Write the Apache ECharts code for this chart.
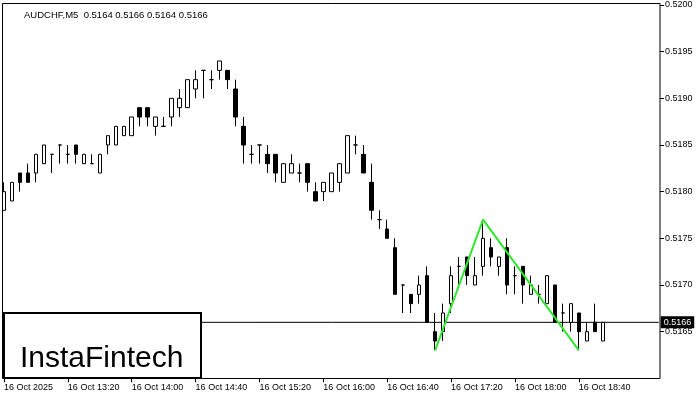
<!DOCTYPE html>
<html><head><meta charset="utf-8">
<script src="https://cdn.jsdelivr.net/npm/echarts@6/dist/echarts.min.js"></script>
<style>html,body{margin:0;padding:0;background:#fff}#c{width:700px;height:400px}</style>
</head><body><div id="c"></div>
<script>
const symbolTitle = 'AUDCHF,M5  0.5164 0.5166 0.5164 0.5166';
const dateLabel = '16 Oct 2025';
const dayPrefix = '16 Oct ';
const times = ['12:40','12:45','12:50','12:55','13:00','13:05','13:10','13:15',
  '13:20','13:25','13:30','13:35','13:40','13:45','13:50','13:55',
  '14:00','14:05','14:10','14:15','14:20','14:25','14:30','14:35',
  '14:40','14:45','14:50','14:55','15:00','15:05','15:10','15:15',
  '15:20','15:25','15:30','15:35','15:40','15:45','15:50','15:55',
  '16:00','16:05','16:10','16:15','16:20','16:25','16:30','16:35',
  '16:40','16:45','16:50','16:55','17:00','17:05','17:10','17:15',
  '17:20','17:25','17:30','17:35','17:40','17:45','17:50','17:55',
  '18:00','18:05','18:10','18:15','18:20','18:25','18:30','18:35',
  '18:40','18:45','18:50','18:55'];
const padSlots = ['p1','p2','p3','p4','p5','p6','p7'];
const opens = [0.5178,0.5179,0.5182,0.5182,0.5182,0.5183,0.5184,0.5185,0.5184,0.5185,0.5183,0.5183,0.5182,0.5185,0.5185,0.5186,0.5186,0.5189,0.5189,0.5187,0.5187,0.5188,0.5189,0.5189,0.5191,0.5193,0.5192,0.5193,0.5193,0.5191,0.5187,0.5184,0.5185,0.5184,0.5184,0.5181,0.5182,0.5182,0.5183,0.5180,0.5180,0.5180,0.5181,0.5182,0.5185,0.5184,0.5181,0.5177,0.5176,0.5174,0.5170,0.5169,0.5169,0.5171,0.5165,0.5165,0.5168,0.5172,0.5173,0.5170,0.5172,0.5174,0.5172,0.5174,0.5171,0.5172,0.5169,0.5169,0.5168,0.5170,0.5167,0.5166,0.5167,0.5164,0.5166,0.5164];
const closes = [0.5180,0.5181,0.5181,0.5181,0.5184,0.5185,0.5184,0.5185,0.5184,0.5184,0.5184,0.5183,0.5184,0.5186,0.5187,0.5187,0.5188,0.5188,0.5188,0.5188,0.5187,0.5190,0.5190,0.5192,0.5192,0.5193,0.5192,0.5194,0.5192,0.5188,0.5185,0.5184,0.5185,0.5183,0.5182,0.5183,0.5183,0.5182,0.5181,0.5179,0.5181,0.5182,0.5183,0.5186,0.5185,0.5182,0.5178,0.5177,0.5175,0.5169,0.5170,0.5168,0.5170,0.5166,0.5164,0.5167,0.5171,0.5172,0.5171,0.5171,0.5175,0.5173,0.5173,0.5170,0.5171,0.5170,0.5170,0.5169,0.5171,0.5166,0.5167,0.5168,0.5165,0.5165,0.5165,0.5166];
const lows = [0.5178,0.5179,0.5180,0.5181,0.5181,0.5183,0.5182,0.5183,0.5183,0.5183,0.5183,0.5183,0.5182,0.5184,0.5185,0.5186,0.5186,0.5187,0.5187,0.5186,0.5187,0.5187,0.5188,0.5189,0.5190,0.5190,0.5191,0.5192,0.5191,0.5187,0.5183,0.5183,0.5183,0.5182,0.5181,0.5181,0.5182,0.5181,0.5180,0.5179,0.5179,0.5180,0.5180,0.5182,0.5184,0.5182,0.5177,0.5176,0.5175,0.5169,0.5167,0.5167,0.5168,0.5166,0.5163,0.5164,0.5167,0.5170,0.5170,0.5170,0.5171,0.5172,0.5171,0.5169,0.5169,0.5168,0.5169,0.5168,0.5168,0.5166,0.5165,0.5165,0.5163,0.5164,0.5165,0.5164];
const highs = [0.5181,0.5181,0.5182,0.5183,0.5184,0.5185,0.5184,0.5185,0.5185,0.5185,0.5184,0.5184,0.5184,0.5186,0.5187,0.5187,0.5188,0.5189,0.5189,0.5188,0.5188,0.5190,0.5191,0.5192,0.5193,0.5193,0.5193,0.5194,0.5193,0.5192,0.5188,0.5185,0.5185,0.5185,0.5184,0.5183,0.5184,0.5183,0.5183,0.5181,0.5181,0.5182,0.5183,0.5186,0.5186,0.5185,0.5183,0.5178,0.5177,0.5175,0.5170,0.5169,0.5171,0.5172,0.5167,0.5168,0.5172,0.5173,0.5173,0.5173,0.5177,0.5175,0.5173,0.5175,0.5172,0.5172,0.5171,0.5170,0.5171,0.5170,0.5168,0.5168,0.5167,0.5166,0.5168,0.5166];
const patternTimes = ['17:10','17:40','18:40'];
const patternPrices = [0.5163,0.5177,0.5163];
const currentPrice = 0.5166;
const yMin = 0.5160, yMax = 0.5200, yStep = 0.0005;
const logoText = 'InstaFintech';

const categories = times.concat(padSlots);
const candleData = times.map((t, i) => [opens[i], closes[i], lows[i], highs[i]]);
const patternData = patternTimes.map((t, i) => [t, patternPrices[i]]);
const priceLineData = [[categories[0], currentPrice], [categories[categories.length - 1], currentPrice]];
const showIdx = (idx) => idx % 8 === 0 && idx < times.length;

const chart = echarts.init(document.getElementById('c'), null, {renderer: 'canvas'});
chart.setOption({
  animation: false,
  backgroundColor: '#ffffff',
  title: {
    text: symbolTitle, left: 19, top: 5,
    textStyle: {fontFamily: 'Liberation Sans', fontSize: 9.5, fontWeight: 'normal', color: '#000'}
  },
  grid: {left: -1.3, top: 5, width: 664, height: 373.33},
  xAxis: {
    type: 'category', data: categories, boundaryGap: true,
    axisLine: {show: false},
    axisTick: {show: true, length: 4, alignWithLabel: true, interval: showIdx, lineStyle: {color: '#000'}},
    axisLabel: {
      interval: showIdx, align: 'left', margin: 5,
      fontFamily: 'Liberation Sans', fontSize: 9, color: '#000',
      formatter: (v, idx) => idx === 0 ? dateLabel : dayPrefix + v
    },
    splitLine: {show: false}
  },
  yAxis: {
    type: 'value', position: 'right', offset: -2.7,
    min: yMin, max: yMax, interval: yStep,
    axisLine: {show: false},
    axisTick: {show: true, length: 4, lineStyle: {color: '#000'}},
    axisLabel: {
      showMinLabel: false, showMaxLabel: true, margin: 5,
      fontFamily: 'Liberation Sans', fontSize: 9, color: '#000',
      formatter: (v) => v.toFixed(4)
    },
    splitLine: {show: false}
  },
  series: [
    {
      type: 'line', data: priceLineData, symbol: 'none', silent: true,
      lineStyle: {color: '#000', width: 1}, z: 1,
      endLabel: {
        show: true, distance: 2,
        formatter: () => currentPrice.toFixed(4),
        backgroundColor: '#000', color: '#fff', padding: [2, 3, 1, 3],
        fontFamily: 'Liberation Sans', fontSize: 9
      }
    },
    {
      type: 'candlestick', data: candleData, barWidth: 4, z: 3,
      itemStyle: {color: '#ffffff', color0: '#000000', borderColor: '#000000', borderColor0: '#000000', borderWidth: 1}
    },
    {
      type: 'line', data: patternData, symbol: 'none', silent: true,
      lineStyle: {color: '#2ee82e', width: 2}, z: 5
    }
  ],
  graphic: [
    {type: 'rect', shape: {x: 2.5, y: 3.5, width: 657.5, height: 375}, style: {fill: 'none', stroke: '#000', lineWidth: 1}, z: 10},
    {type: 'rect', shape: {x: 4, y: 313, width: 197, height: 65}, style: {fill: '#fff', stroke: '#000', lineWidth: 2}, z: 11},
    {type: 'text', x: 20, y: 359, style: {text: logoText, fontFamily: 'Liberation Sans', fontSize: 30, fill: '#000', textVerticalAlign: 'middle'}, z: 12}
  ]
});
</script></body></html>
